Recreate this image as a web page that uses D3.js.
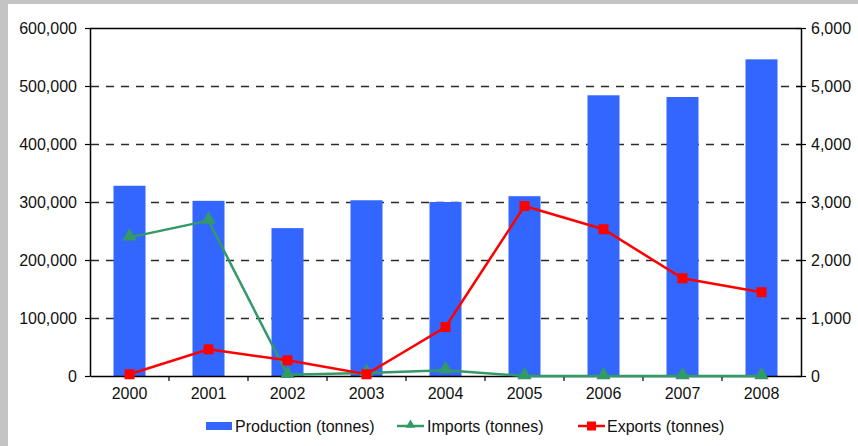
<!DOCTYPE html>
<html>
<head>
<meta charset="utf-8">
<script src="https://cdn.jsdelivr.net/npm/d3@7"></script>
<style>
  html, body { margin: 0; padding: 0; background: #fff; }
  svg { display: block; }
  text { font-family: "Liberation Sans", Arial, sans-serif; fill: #111; }
</style>
</head>
<body>
<svg id="chart" width="858" height="446"></svg>
<script>
const years = ["2000","2001","2002","2003","2004","2005","2006","2007","2008"];
const production = [328000, 302000, 255000, 303000, 300000, 310000, 484000, 481000, 546000];
const imports = [2390, 2680, 20, 50, 100, 0, 0, 0, 0];
const exports = [30, 460, 270, 30, 845, 2930, 2530, 1685, 1445];
const leftTicks = [0, 100000, 200000, 300000, 400000, 500000, 600000];
const rightTicks = [0, 1000, 2000, 3000, 4000, 5000, 6000];
const legendLabels = ["Production (tonnes)", "Imports (tonnes)", "Exports (tonnes)"];

(function () {
const W = 858, H = 446;
const pL = 90, pR = 801, pT = 28, pB = 376;
const svg = d3.select("#chart");

// frame
svg.append("rect").attr("x", 0).attr("y", 0).attr("width", W).attr("height", H).attr("fill", "#fff");
svg.append("rect").attr("x", 0).attr("y", 0).attr("width", W).attr("height", 4).attr("fill", "#c4c4c4");
svg.append("rect").attr("x", 0).attr("y", 0).attr("width", 8).attr("height", H).attr("fill", "#c4c4c4");

const x = d3.scaleBand().domain(years).range([pL, pR]).paddingInner(0).paddingOuter(0);
const yL = d3.scaleLinear().domain([0, 600000]).range([pB, pT]);
const yR = d3.scaleLinear().domain([0, 6000]).range([pB, pT]);

// gridlines
svg.append("g").selectAll("line").data(leftTicks.filter(d => d > 0 && d < 600000)).join("line")
  .attr("x1", pL + 1).attr("x2", pR)
  .attr("y1", d => Math.round(yL(d)) + 0.5).attr("y2", d => Math.round(yL(d)) + 0.5)
  .attr("stroke", "#2a2a2a").attr("stroke-width", 1.3).attr("stroke-dasharray", "8,7");

// bars
const bw = 32;
svg.append("g").selectAll("rect").data(years).join("rect")
  .attr("x", (d) => x(d) + x.bandwidth() / 2 - bw / 2)
  .attr("width", bw)
  .attr("y", (d, i) => yL(production[i]))
  .attr("height", (d, i) => pB - yL(production[i]))
  .attr("fill", "#3366ff");

// plot frame: top line
svg.append("line").attr("x1", pL).attr("x2", pR).attr("y1", pT + 0.5).attr("y2", pT + 0.5)
  .attr("stroke", "#000").attr("stroke-width", 1.5);

// axes
const fmt = d3.format(",");
const gL = svg.append("g").attr("transform", `translate(${pL},0)`)
  .call(d3.axisLeft(yL).tickValues(leftTicks).tickFormat(fmt).tickSizeInner(5).tickSizeOuter(0).tickPadding(8));
const gR = svg.append("g").attr("transform", `translate(${pR},0)`)
  .call(d3.axisRight(yR).tickValues(rightTicks).tickFormat(fmt).tickSizeInner(5).tickSizeOuter(0).tickPadding(5));
gR.selectAll(".tick line").attr("x1", -5);
const gX = svg.append("g").attr("transform", `translate(0,${pB})`)
  .call(d3.axisBottom(x).tickSize(0).tickPadding(12));
[gL, gR, gX].forEach(g => {
  g.select(".domain").attr("stroke", "#000").attr("stroke-width", 1.5);
  g.selectAll(".tick line").attr("stroke", "#000").attr("stroke-width", 1.2);
  g.selectAll("text").attr("font-size", 16).attr("fill", "#111").attr("font-family", "Liberation Sans, Arial, sans-serif");
});
// category boundary ticks
svg.append("g").selectAll("line").data(years.slice(1)).join("line")
  .attr("x1", d => x(d)).attr("x2", d => x(d))
  .attr("y1", pB).attr("y2", pB + 5)
  .attr("stroke", "#000").attr("stroke-width", 1.2);

// lines
const lineGen = d3.line().x((d, i) => x(years[i]) + x.bandwidth() / 2).y(d => yR(d));
svg.append("path").datum(imports).attr("d", lineGen)
  .attr("fill", "none").attr("stroke", "#339966").attr("stroke-width", 2.5);
svg.append("path").datum(exports).attr("d", lineGen)
  .attr("fill", "none").attr("stroke", "#ff0000").attr("stroke-width", 2.5);

const tri = d3.symbol().type(d3.symbolTriangle).size(90);
svg.append("g").selectAll("path").data(imports).join("path")
  .attr("d", tri)
  .attr("transform", (d, i) => `translate(${x(years[i]) + x.bandwidth() / 2},${yR(d) - 1})`)
  .attr("fill", "#339966");
svg.append("g").selectAll("rect").data(exports).join("rect")
  .attr("x", (d, i) => x(years[i]) + x.bandwidth() / 2 - 5)
  .attr("y", d => yR(d) - 5)
  .attr("width", 10).attr("height", 10)
  .attr("fill", "#ff0000");

// legend
const ly = 426;
const lg = svg.append("g");
lg.append("rect").attr("x", 206).attr("y", ly - 4).attr("width", 26).attr("height", 8).attr("fill", "#3366ff");
lg.append("text").attr("x", 235).attr("y", ly + 5.5).attr("font-size", 16).text(legendLabels[0]);
lg.append("line").attr("x1", 397).attr("x2", 424).attr("y1", ly).attr("y2", ly).attr("stroke", "#339966").attr("stroke-width", 2.5);
lg.append("path").attr("d", d3.symbol().type(d3.symbolTriangle).size(40)).attr("transform", `translate(410.5,${ly - 1})`).attr("fill", "#339966");
lg.append("text").attr("x", 427).attr("y", ly + 5.5).attr("font-size", 16).text(legendLabels[1]);
lg.append("line").attr("x1", 578).attr("x2", 605).attr("y1", ly).attr("y2", ly).attr("stroke", "#ff0000").attr("stroke-width", 2.5);
lg.append("rect").attr("x", 587).attr("y", ly - 4.5).attr("width", 9).attr("height", 9).attr("fill", "#ff0000");
lg.append("text").attr("x", 607).attr("y", ly + 5.5).attr("font-size", 16).text(legendLabels[2]);
})();
</script>
</body>
</html>
